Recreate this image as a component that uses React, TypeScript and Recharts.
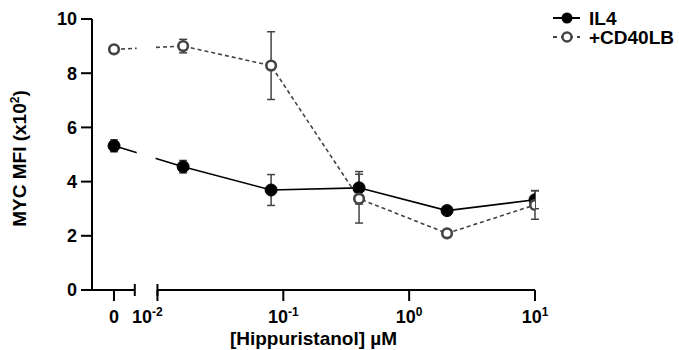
import { LineChart, Line, XAxis, YAxis, ErrorBar, ReferenceLine, ReferenceArea } from 'recharts';

// concentrations in µM (0 = vehicle, drawn on its own segment left of the axis break)
const concentrations = [0, 0.016, 0.08, 0.4, 2, 10];
const il4Values = [5.32, 4.55, 3.69, 3.77, 2.93, 3.33];
const il4Errors = [0.22, 0.23, 0.57, 0.6, 0.12, 0.33];
const cd40Values = [8.88, 9.0, 8.28, 3.37, 2.09, 3.14];
const cd40Errors = [0.08, 0.25, 1.25, 0.9, 0.05, 0.53];

const yTicks = [0, 2, 4, 6, 8, 10];
const xTickConc = [0, 0.01, 0.1, 1, 10];
const xTickExps = ['', '-2', '-1', '0', '1'];

const ZERO_POS = -2.345;
const BREAK_LEFT = -2.18;
const BREAK_RIGHT = -2;
const FONT = '"Liberation Sans", Arial, sans-serif';

const toPos = (c: number) => (c === 0 ? ZERO_POS : Math.log10(c));

const data = concentrations.map((c, i) => ({
  pos: toPos(c),
  il4: il4Values[i],
  il4Err: il4Errors[i],
  cd40: cd40Values[i],
  cd40Err: cd40Errors[i],
}));

const XTick = ({ x, y, index }: any) => {
  const exp = xTickExps[index];
  const shift = index === 1 ? -10 : 0;
  return (
    <text x={x + shift} y={y} dy={20} textAnchor="middle" fontFamily={FONT} fontWeight="bold" fontSize={18} fill="#000">
      {exp === '' ? '0' : '10'}
      {exp !== '' && (
        <tspan dy={-7} fontSize={12}>
          {exp}
        </tspan>
      )}
    </text>
  );
};

function Legend() {
  return (
    <svg width={140} height={50} style={{ position: 'absolute', left: 545, top: 0 }}>
      <line x1={8} x2={35} y1={18} y2={18} stroke="#000" strokeWidth={2} />
      <circle cx={22} cy={18} r={5.5} fill="#000" />
      <text x={44} y={25} fontFamily={FONT} fontWeight="bold" fontSize={19} fill="#000">IL4</text>
      <line x1={8} x2={35} y1={37} y2={37} stroke="#444" strokeWidth={2} strokeDasharray="4 4" />
      <circle cx={22} cy={37} r={4.5} fill="#fff" stroke="#444" strokeWidth={2.5} />
      <text x={44} y={44} fontFamily={FONT} fontWeight="bold" fontSize={19} fill="#000">+CD40LB</text>
    </svg>
  );
}

export default function App() {
  return (
    <div style={{ position: 'absolute', left: 0, top: 0, width: 679, height: 350, background: '#fff', fontFamily: FONT }}>
      <LineChart width={679} height={350} data={data} margin={{ top: 19, right: 144, bottom: 0, left: 0 }}>
        <XAxis
          type="number"
          dataKey="pos"
          domain={[-2.52, 1]}
          ticks={xTickConc.map(toPos)}
          allowDataOverflow
          axisLine={false}
          tickLine={{ stroke: '#000', strokeWidth: 2 }}
          tickSize={11}
          height={60}
          tick={<XTick />}
          label={{
            value: '[Hippuristanol] µM',
            position: 'insideBottom',
            offset: 5,
            fill: '#000',
            fontSize: 19,
            fontWeight: 'bold',
            fontFamily: FONT,
          }}
        />
        <YAxis
          domain={[0, 10]}
          ticks={yTicks}
          width={92}
          axisLine={{ stroke: '#000', strokeWidth: 2 }}
          tickLine={{ stroke: '#000', strokeWidth: 2 }}
          tickSize={11}
          tickMargin={4}
          tick={{ fill: '#000', fontSize: 18, fontWeight: 'bold', fontFamily: FONT }}
          label={({ viewBox }: any) => {
            const cy = viewBox.y + viewBox.height / 2 + 4;
            return (
              <text x={26} y={cy} transform={`rotate(-90 26 ${cy})`} textAnchor="middle" fontFamily={FONT} fontWeight="bold" fontSize={19} fill="#000">
                MYC MFI (x10
                <tspan dy={-7} fontSize={12}>2</tspan>
                <tspan dy={7}>)</tspan>
              </text>
            );
          }}
        />
        <ReferenceLine segment={[{ x: -2.52, y: 0 }, { x: BREAK_LEFT, y: 0 }]} stroke="#000" strokeWidth={2} ifOverflow="visible" />
        <ReferenceLine segment={[{ x: BREAK_RIGHT, y: 0 }, { x: 1, y: 0 }]} stroke="#000" strokeWidth={2} ifOverflow="visible" />
        <ReferenceLine segment={[{ x: BREAK_LEFT, y: -0.22 }, { x: BREAK_LEFT, y: 0.22 }]} stroke="#000" strokeWidth={2} ifOverflow="visible" />
        <ReferenceLine segment={[{ x: BREAK_RIGHT, y: -0.22 }, { x: BREAK_RIGHT, y: 0.22 }]} stroke="#000" strokeWidth={2} ifOverflow="visible" />
        <Line
          dataKey="il4"
          stroke="#000"
          strokeWidth={1.6}
          dot={{ r: 6, fill: '#000', stroke: '#000', strokeWidth: 1 }}
          isAnimationActive={false}
        >
          <ErrorBar dataKey="il4Err" direction="y" width={4} stroke="#444" strokeWidth={1.5} />
        </Line>
        <Line
          dataKey="cd40"
          stroke="#444"
          strokeWidth={1.6}
          strokeDasharray="4 3"
          dot={{ r: 4.8, fill: '#fff', stroke: '#444', strokeWidth: 2.6, strokeDasharray: '0' }}
          isAnimationActive={false}
        >
          <ErrorBar dataKey="cd40Err" direction="y" width={4} stroke="#444" strokeWidth={1.5} />
        </Line>
        <ReferenceArea x1={BREAK_LEFT + 0.015} x2={BREAK_RIGHT - 0.015} y1={0.15} y2={10} fill="#fff" fillOpacity={1} stroke="none" zIndex={1000} />
      </LineChart>
      <Legend />
    </div>
  );
}
